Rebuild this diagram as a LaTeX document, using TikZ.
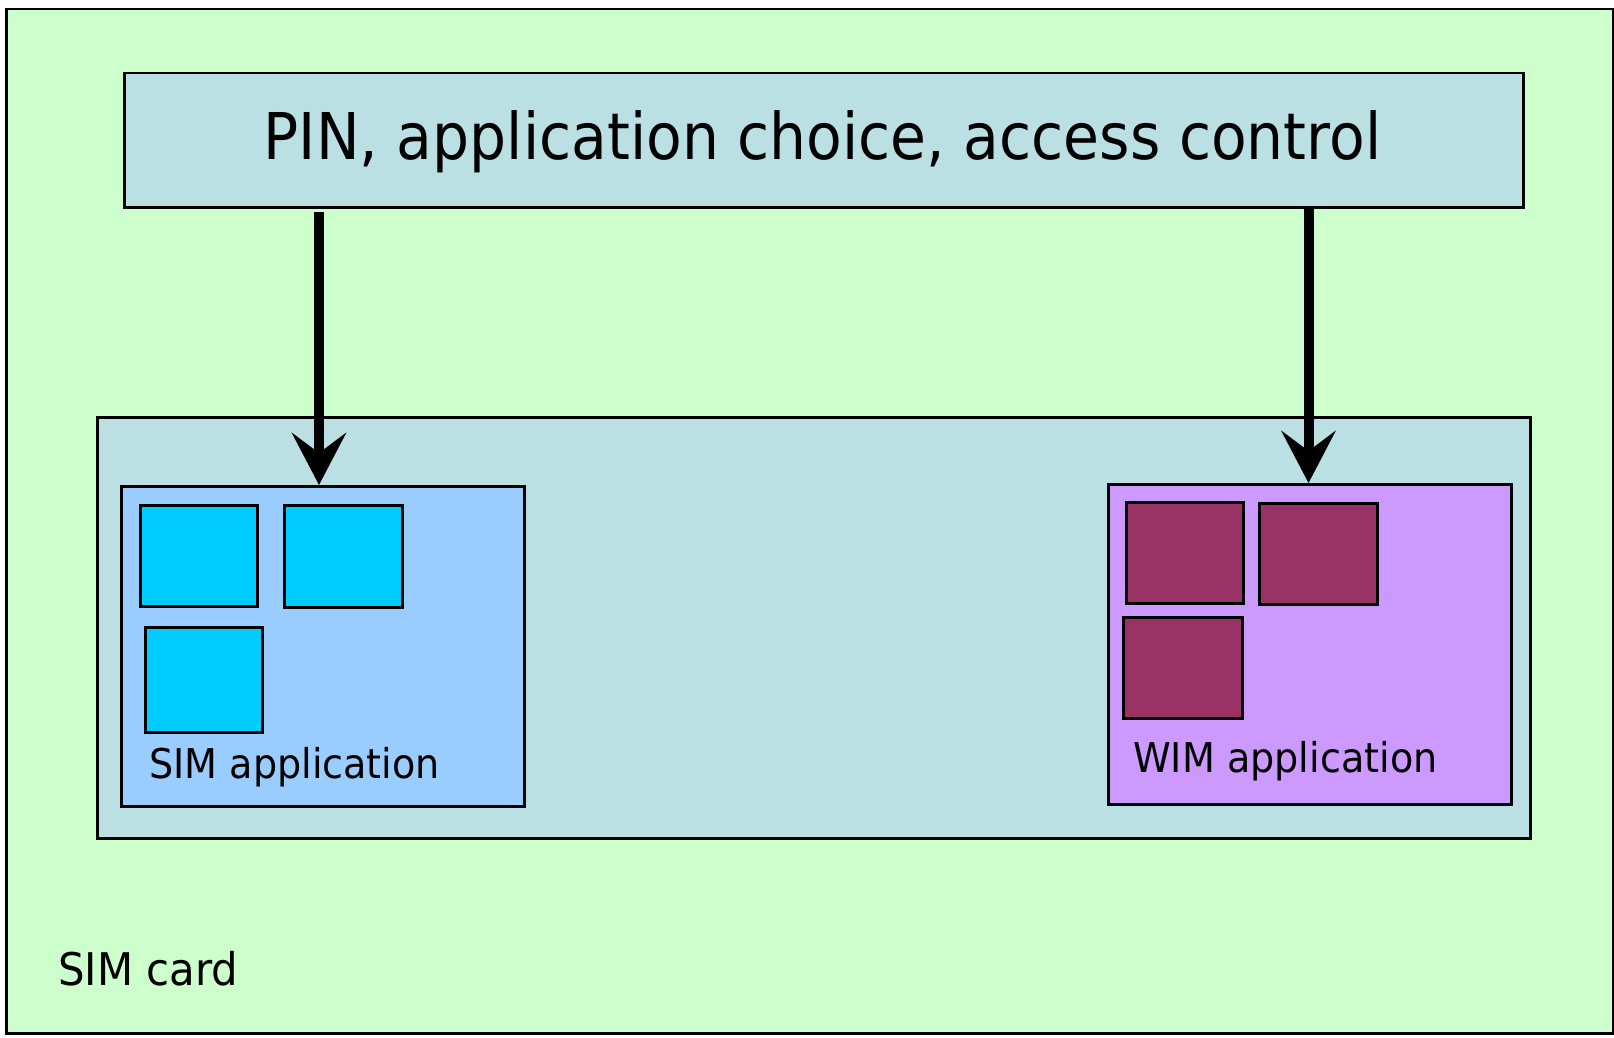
\documentclass[tikz,border=0pt]{standalone}
\usepackage{fontspec}
\setmainfont[FakeStretch=0.93]{DejaVu Sans}
\newfontfamily\titlefont[FakeStretch=0.905]{DejaVu Sans}
\usetikzlibrary{arrows.meta}
\definecolor{cardgreen}{HTML}{CCFFCC}
\definecolor{panelblue}{HTML}{BAE0E3}
\definecolor{simblue}{HTML}{99CCFF}
\definecolor{simcyan}{HTML}{00CCFF}
\definecolor{wimviolet}{HTML}{CC99FF}
\definecolor{wimmaroon}{HTML}{993366}
\tikzset{
  box/.style={draw=black, line width=2.5pt, inner sep=0pt, anchor=north west},
  lbl/.style={inner sep=0pt, anchor=base west},
  arr/.style={line width=10pt, -{Stealth[length=52pt,width=54pt,inset=20pt]}}
}
\begin{document}
\begin{tikzpicture}[x=1pt,y=-1pt]
\useasboundingbox (0,0) rectangle (1614,1038);
\node[box, fill=cardgreen, minimum width=1607pt, minimum height=1024pt] (card) at (5,8) {};
\node[box, fill=panelblue, minimum width=1399pt, minimum height=134pt] (top) at (123,72) {};
\node[inner sep=0pt, anchor=base] (toptxt) at (822.5,160) {\titlefont\fontsize{64.5}{70}\selectfont PIN, application choice, access control};
\node[box, fill=panelblue, minimum width=1433pt, minimum height=421pt] (panel) at (96,416) {};
\node[box, fill=simblue, minimum width=403pt, minimum height=320pt] (sim) at (120,485) {};
\node[box, fill=simcyan, minimum width=117pt, minimum height=101pt] (s1) at (139,504) {};
\node[box, fill=simcyan, minimum width=118pt, minimum height=102pt] (s2) at (283,504) {};
\node[box, fill=simcyan, minimum width=117pt, minimum height=105pt] (s3) at (144,626) {};
\node[lbl] (simtxt) at (149,778) {\fontsize{41}{45}\selectfont SIM application};
\node[box, fill=wimviolet, minimum width=403pt, minimum height=320pt] (wim) at (1107,483) {};
\node[box, fill=wimmaroon, minimum width=117pt, minimum height=101pt] (w1) at (1125,501) {};
\node[box, fill=wimmaroon, minimum width=118pt, minimum height=101pt] (w2) at (1258,502) {};
\node[box, fill=wimmaroon, minimum width=119pt, minimum height=101pt] (w3) at (1122,616) {};
\node[lbl] (wimtxt) at (1133,772) {\fontsize{41}{45}\selectfont WIM application};
\node[lbl] (cardtxt) at (58,985) {\fontsize{45}{50}\selectfont SIM card};
\draw[arr] ([xshift=196pt,yshift=-3pt]top.south west) -- ([xshift=199pt]sim.north west);
\draw[arr] ([xshift=1185.5pt]top.south west) -- ([xshift=201.5pt]wim.north west);
\end{tikzpicture}
\end{document}
